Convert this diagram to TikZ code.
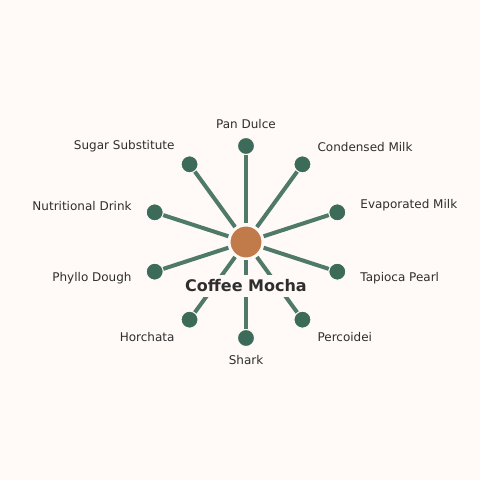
\documentclass[tikz,border=0pt]{standalone}
\usepackage{fontspec}
\setmainfont{DejaVu Sans}
\definecolor{bgcol}{HTML}{FFFAF7}
\definecolor{spokecol}{HTML}{4F7A6A}
\definecolor{dotcol}{HTML}{3D6B5A}
\definecolor{hubcol}{HTML}{C17A4A}
\definecolor{inkcol}{HTML}{2E2E2E}
\begin{document}
\begin{tikzpicture}[x=1bp,y=1bp,
    hub/.style={circle, fill=hubcol, draw=bgcol, line width=3bp, minimum size=34bp, inner sep=0pt},
    leaf/.style={circle, fill=dotcol, draw=bgcol, line width=1bp, minimum size=17bp, inner sep=0pt},
    spoke/.style={draw=spokecol, line width=4bp},
    lab/.style={text=inkcol, font=\fontsize{12bp}{14bp}\selectfont, inner sep=2bp}]
    % Background and frame
    \fill[bgcol] (-246,-238) rectangle (234,242);
    \useasboundingbox (-246,-238) rectangle (234,242);
    % Centre node
    \node[hub] (mocha) at (0,0) {};
    % Outer nodes, their labels and the spokes
    \foreach \i/\ang/\txt/\anc in {1/90/Pan Dulce/center, 2/54/Condensed Milk/west,
        3/18/Evaporated Milk/west, 4/-18/Tapioca Pearl/west, 5/-54/Percoidei/west,
        6/-90/Shark/center, 7/-126/Horchata/east, 8/-162/Phyllo Dough/east,
        9/162/Nutritional Drink/east, 10/126/Sugar Substitute/east}{
        \node[leaf] (n\i) at (\ang:96) {};
        \node[lab, anchor=\anc] (lab\i) at (\ang:118) {\txt};
        \draw[spoke] (mocha) -- (n\i);
    }
    % Title of the centre
    \node[fill=bgcol, inner sep=5bp, text=inkcol,
        font=\fontsize{16bp}{19bp}\selectfont\bfseries] (title) at (0,-44) {Coffee Mocha};
\end{tikzpicture}
\end{document}
